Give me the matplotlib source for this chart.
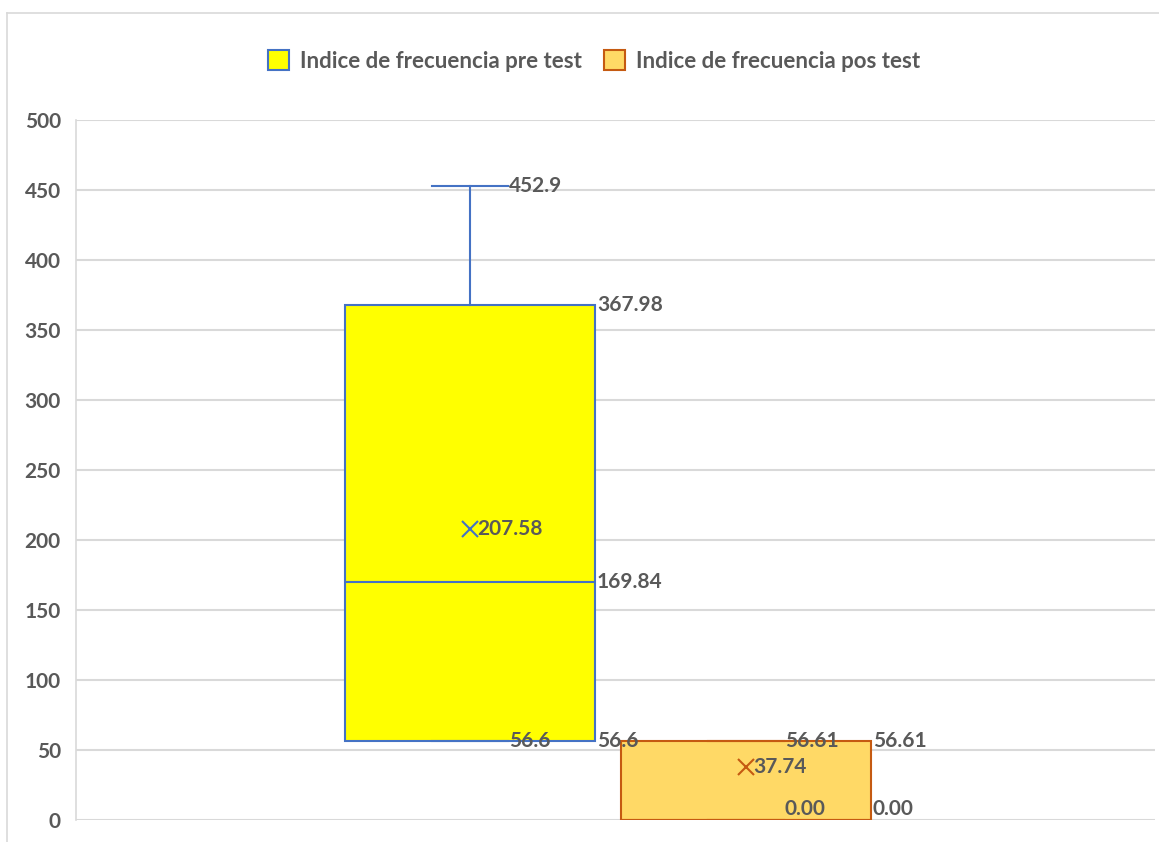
import matplotlib
matplotlib.use("Agg")
import matplotlib.pyplot as plt
from matplotlib.patches import Patch
from matplotlib.lines import Line2D

plt.rcParams["font.family"] = ["Lato", "DejaVu Sans"]
plt.rcParams["font.weight"] = "bold"

series = ["Indice de frecuencia pre test", "Indice de frecuencia pos test"]
whislo = [56.6, 0.00]
q1 = [56.6, 0.00]
med = [169.84, 0.00]
q3 = [367.98, 56.61]
whishi = [452.9, 56.61]
mean = [207.58, 37.74]
lab_lo = ["56.6", "0.00"]
lab_q1 = ["56.6", "0.00"]
lab_med = ["169.84", "0.00"]
lab_q3 = ["367.98", "56.61"]
lab_hi = ["452.9", "56.61"]
lab_mean = ["207.58", "37.74"]

faces = ["#FFFF00", "#FFD966"]
edges = ["#4472C4", "#C55A11"]
txt = "#595959"
fs = 15

W, H = 1159, 842
fig = plt.figure(figsize=(W / 100, H / 100), dpi=100)
ax = fig.add_axes([76 / W, 1 - 820 / H, 1079 / W, 700 / H])

pos = [1, 2]
width = 0.909
cap = 0.272


def label(x, y, s, dx=1):
    # values at the floor get pushed up inside the plot area
    va = "bottom" if y <= 0 else "center"
    dy = 0 if y > 0 else 1
    ax.annotate(s, (x, y), xytext=(dx, dy), textcoords="offset points",
                va=va, ha="left", fontsize=fs, color=txt)


for i in range(2):
    st = [dict(whislo=whislo[i], q1=q1[i], med=med[i], q3=q3[i],
               whishi=whishi[i], mean=mean[i], fliers=[])]
    ax.bxp(st, positions=[pos[i]], widths=width, capwidths=cap,
           showmeans=True, patch_artist=True,
           boxprops=dict(facecolor=faces[i], edgecolor=edges[i], lw=1.5),
           medianprops=dict(color=edges[i], lw=1.5),
           whiskerprops=dict(color=edges[i], lw=1.5),
           capprops=dict(color=edges[i], lw=1.5),
           meanprops=dict(marker="x", markeredgecolor=edges[i],
                          markersize=12, markeredgewidth=1.5))
    label(pos[i] + cap / 2, whishi[i], lab_hi[i])
    label(pos[i] + cap / 2, whislo[i], lab_lo[i])
    right = pos[i] + width / 2
    label(right, q3[i], lab_q3[i])
    if med[i] != q1[i]:
        label(right, med[i], lab_med[i])
    label(right, q1[i], lab_q1[i])
    label(pos[i], mean[i], lab_mean[i], dx=5)

ax.set_xlim(1 + (76 - 470) / 276, 1 + (1155 - 470) / 276)
ax.set_ylim(0, 500)
ax.set_yticks(range(0, 501, 50))
ax.set_xticks([])
ax.yaxis.grid(True, color="#D9D9D9", lw=1.5)
ax.set_axisbelow(True)
for sp in ax.spines.values():
    sp.set_visible(False)
ax.spines["left"].set_visible(True)
ax.spines["left"].set_color("#D9D9D9")
ax.spines["left"].set_linewidth(1.2)
ax.tick_params(axis="y", length=0, pad=11, labelsize=fs, labelcolor=txt)

handles = [Patch(facecolor=faces[i], edgecolor=edges[i], lw=1.5) for i in range(2)]
fig.legend(handles, series, loc="center", bbox_to_anchor=(594 / W, 1 - 61 / H),
           ncol=2, frameon=False, fontsize=16, labelcolor=txt,
           handlelength=0.95, handleheight=0.95, handletextpad=0.5, columnspacing=1.0)

fig.add_artist(Line2D([7 / W, 1], [1 - 13 / H, 1 - 13 / H], color="#D9D9D9", lw=1.2))
fig.add_artist(Line2D([7 / W, 7 / W], [0, 1 - 13 / H], color="#D9D9D9", lw=1.2))

fig.savefig("out.png", dpi=100, facecolor="white")
